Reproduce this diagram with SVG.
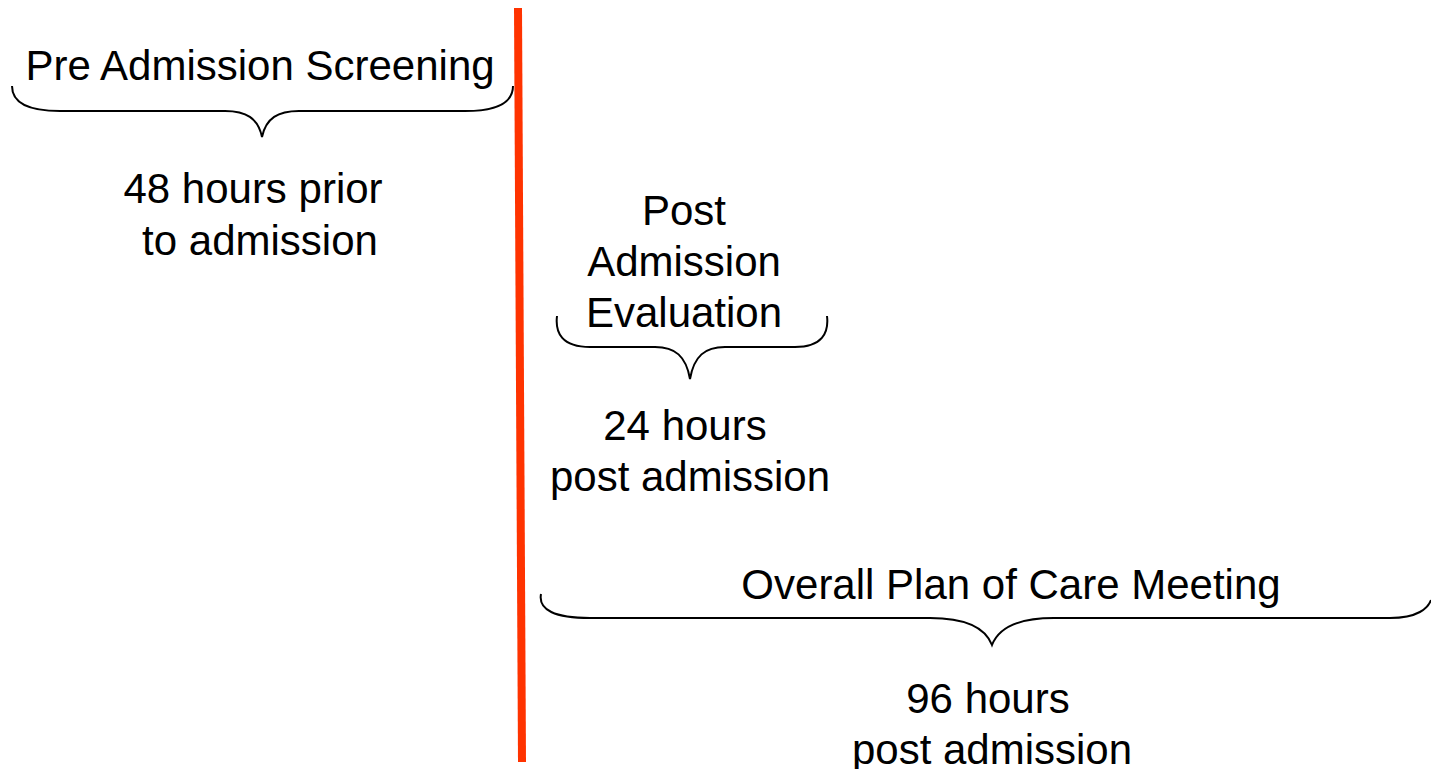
<svg xmlns="http://www.w3.org/2000/svg" width="1431" height="769" viewBox="0 0 1431 769">
<style>
text{font-family:"Liberation Sans",Arial,sans-serif;font-size:42px;fill:#000;text-anchor:middle}
.brace{fill:none;stroke:#000;stroke-width:2}
</style>
<rect width="1431" height="769" fill="#fff"/>
<g id="connectors">
<line x1="518" y1="8" x2="522" y2="762" stroke="#FF3300" stroke-width="8"/>
</g>
<g id="pre">
<text x="260" y="80">Pre Admission Screening</text>
<path class="brace" d="M12,86 C12,101 25,111 60,111 L225,111 C246,111 258,118 262,137 C266,118 278,111 299,111 L465,111 C500,111 513,101 513,86"/>
<text x="253" y="203">48 hours prior</text>
<text x="260" y="255">to admission</text>
</g>
<g id="post">
<text x="684" y="225">Post</text>
<text x="684" y="276">Admission</text>
<text x="684" y="327">Evaluation</text>
<path class="brace" d="M557,316 C555,333 562,347 590,347 L655,347 C675,347 686,356 690,379 C694,356 705,347 725,347 L795,347 C822,347 829,333 827,316"/>
<text x="685" y="440">24 hours</text>
<text x="690" y="491">post admission</text>
</g>
<g id="overall">
<text x="1011" y="599">Overall Plan of Care Meeting</text>
<path class="brace" d="M541,594 C538,610 555,618 590,618 L930,618 C965,618 985,627 992,645 C999,627 1019,618 1054,618 L1390,618 C1418,618 1428,608 1431,600"/>
<text x="988" y="713">96 hours</text>
<text x="992" y="764">post admission</text>
</g>
</svg>
